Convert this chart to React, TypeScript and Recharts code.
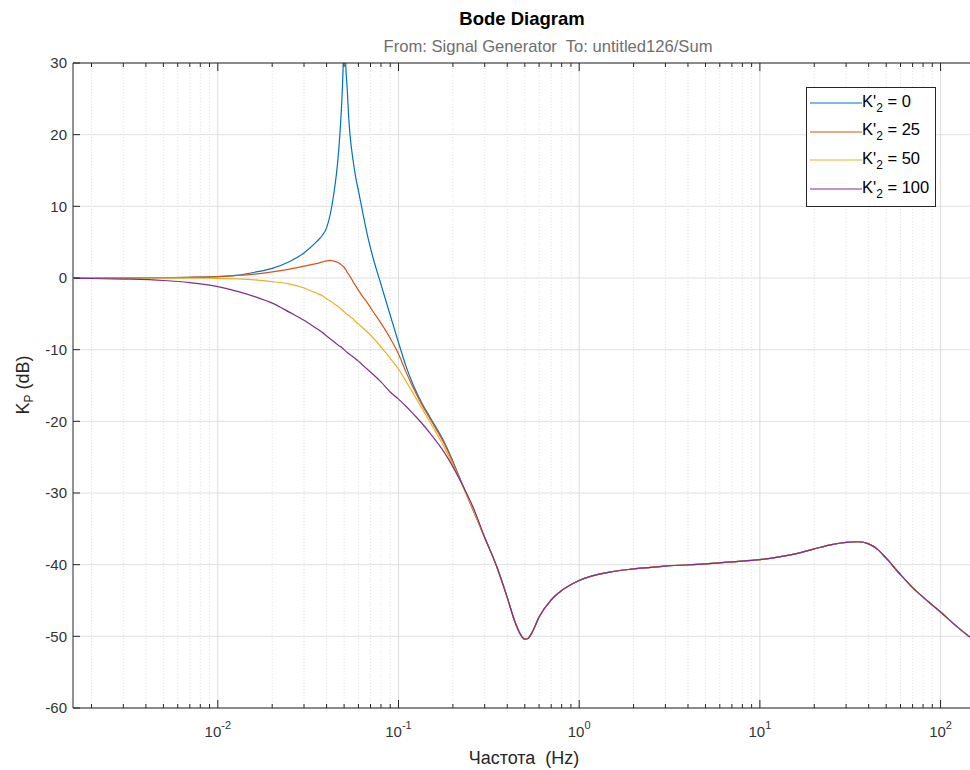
import React from 'react';
import { LineChart, Line, XAxis, YAxis, CartesianGrid, ReferenceLine, Legend } from 'recharts';

const FONT = '"Liberation Sans", Arial, Helvetica, sans-serif';
const AXIS = '#262626';

// frequencies (Hz) where the four responses still differ
const freqLow = [0.0016, 0.002, 0.003, 0.005, 0.007, 0.01, 0.013, 0.016, 0.02, 0.025, 0.03, 0.035, 0.038, 0.04, 0.042, 0.044, 0.046, 0.047, 0.048, 0.049, 0.0495, 0.05, 0.0505, 0.051, 0.052, 0.053, 0.054, 0.056, 0.058, 0.06, 0.063, 0.067, 0.072, 0.08, 0.09, 0.1, 0.11, 0.12, 0.135, 0.15, 0.18, 0.22, 0.26];
const k0Low = [0, 0, 0.01, 0.05, 0.1, 0.2, 0.4, 0.8, 1.35, 2.3, 3.5, 5.0, 6.0, 7.0, 9.0, 12.0, 16.0, 18.8, 22.3, 27, 31, 42, 34, 30, 26.5, 22.5, 19.8, 16.5, 14, 12.2, 9.5, 6.2, 3.0, -0.9, -5.2, -9.0, -12.3, -14.8, -17.5, -19.5, -23.0, -28.1, -32.5];
const k25Low = [0, 0, 0.01, 0.05, 0.1, 0.2, 0.35, 0.55, 0.85, 1.25, 1.65, 2.0, 2.25, 2.4, 2.45, 2.35, 2.2, 2.05, 1.9, 1.7, 1.6, 1.5, 1.35, 1.2, 0.8, 0.5, 0.2, -0.5, -1.1, -1.7, -2.5, -3.4, -4.6, -6.3, -8.4, -10.6, -13.1, -15.2, -17.7, -19.7, -23.2, -28.2, -32.5];
const k50Low = [0, 0, 0, 0, -0.02, -0.05, -0.12, -0.25, -0.5, -0.85, -1.4, -2.1, -2.5, -2.9, -3.2, -3.6, -3.9, -4.1, -4.3, -4.5, -4.6, -4.7, -4.8, -4.9, -5.1, -5.2, -5.4, -5.7, -6.1, -6.4, -6.9, -7.5, -8.3, -9.6, -11.2, -12.7, -14.4, -16.0, -18.2, -20.2, -23.7, -28.3, -32.4];
const k100Low = [-0.05, -0.07, -0.15, -0.35, -0.65, -1.2, -1.9, -2.6, -3.5, -4.8, -5.9, -7.0, -7.6, -8.1, -8.5, -8.9, -9.3, -9.5, -9.6, -9.8, -9.9, -10.0, -10.1, -10.2, -10.4, -10.55, -10.7, -11.0, -11.3, -11.6, -12.1, -12.7, -13.4, -14.5, -15.9, -16.9, -17.9, -18.9, -20.3, -21.7, -24.4, -28.3, -32.1];

// above ~0.3 Hz all four curves lie on top of each other
const freqTail = [0.3, 0.35, 0.4, 0.44, 0.47, 0.5, 0.52, 0.55, 0.6, 0.7, 0.8, 1, 1.5, 2, 3, 5, 7, 10, 15, 20, 25, 30, 35, 40, 45, 50, 60, 70, 85, 100, 120, 145];
const dbTail = [-36.2, -40.3, -44.6, -47.9, -49.6, -50.4, -50.3, -49.4, -47.3, -44.9, -43.6, -42.2, -41.0, -40.6, -40.2, -39.9, -39.6, -39.3, -38.6, -37.8, -37.2, -36.9, -36.8, -37.1, -37.9, -39.1, -41.4, -43.2, -45.1, -46.6, -48.4, -50.1];

const kValues = [0, 25, 50, 100];
const seriesKeys = ['k0', 'k25', 'k50', 'k100'];
const colors = ['#0072BD', '#D95319', '#EDB120', '#7E2F8E'];

const yTicks = [-60, -50, -40, -30, -20, -10, 0, 10, 20, 30];
const decades = [0.001, 0.01, 0.1, 1, 10, 100];
const xDomain = [0.00158, 145.5];

const lowCols = [k0Low, k25Low, k50Low, k100Low];
const data = [
  ...freqLow.map((f, i) => {
    const row: Record<string, number> = { f };
    seriesKeys.forEach((k, s) => (row[k] = lowCols[s][i]));
    return row;
  }),
  ...freqTail.map((f, i) => {
    const row: Record<string, number> = { f };
    seriesKeys.forEach((k) => (row[k] = dbTail[i]));
    return row;
  }),
];

const inDomain = (v: number) => v >= xDomain[0] && v <= xDomain[1];
const majorTicks = decades.filter(inDomain);
const minorTicks = decades
  .flatMap((d) => [2, 3, 4, 5, 6, 7, 8, 9].map((m) => +(d * m).toPrecision(3)))
  .filter(inDomain);
const xTicks = [...majorTicks, ...minorTicks].sort((a, b) => a - b);
const isMajor = (v: number) => majorTicks.some((m) => Math.abs(m - v) / m < 1e-6);

function BottomTick(props: any) {
  const { x, y, payload } = props;
  const major = isMajor(payload.value);
  const exp = Math.round(Math.log10(payload.value));
  return (
    <g>
      <line x1={x} x2={x} y1={y} y2={y - (major ? 8 : 4)} stroke={AXIS} />
      {major && (
        <text x={x} y={y + 29} textAnchor="middle" fontFamily={FONT} fontSize={15} fill="#333">
          <tspan>10</tspan>
          <tspan dy={-8} fontSize={11}>{exp}</tspan>
        </text>
      )}
    </g>
  );
}

function TopTick(props: any) {
  const { x, y, payload } = props;
  const major = isMajor(payload.value);
  return <line x1={x} x2={x} y1={y} y2={y + (major ? 8 : 4)} stroke={AXIS} />;
}

function LeftTick(props: any) {
  const { x, y, payload } = props;
  return (
    <g>
      <line x1={x} x2={x + 7} y1={y} y2={y} stroke={AXIS} />
      <text x={x - 6} y={y} dy="0.35em" textAnchor="end" fontFamily={FONT} fontSize={15} fill="#333">
        {payload.value}
      </text>
    </g>
  );
}

function LegendBox() {
  return (
    <div
      style={{
        boxSizing: 'border-box',
        width: 130,
        height: 120,
        border: `1px solid ${AXIS}`,
        background: '#fff',
        paddingTop: 1,
        fontFamily: FONT,
        fontSize: 16.5,
        color: '#000',
      }}
    >
      {kValues.map((k, i) => (
        <div key={k} style={{ display: 'flex', alignItems: 'center', height: 28.6 }}>
          <svg width={55} height={10} style={{ flex: 'none' }}>
            <line x1={3} x2={55} y1={5} y2={5} stroke={colors[i]} strokeWidth={1.2} />
          </svg>
          <span style={{ whiteSpace: 'pre' }}>
            K'<sub style={{ fontSize: 12, verticalAlign: -5 }}>2</sub> = {k}
          </span>
        </div>
      ))}
    </div>
  );
}

export default function App() {
  return (
    <div style={{ position: 'fixed', left: 0, top: 0, width: 970, height: 770, background: '#fff', overflow: 'hidden' }}>
      <LineChart width={970} height={770} data={data} margin={{ top: 62, right: 0, bottom: 22, left: 33 }}>
        <CartesianGrid vertical={false} stroke="#e0e0e0" />
        {minorTicks.map((v) => (
          <ReferenceLine key={'m' + v} x={v} stroke="#e2e2e2" strokeDasharray="1 2" />
        ))}
        {majorTicks.map((v) => (
          <ReferenceLine key={'M' + v} x={v} stroke="#dcdcdc" />
        ))}
        <XAxis
          dataKey="f"
          type="number"
          scale="log"
          domain={xDomain}
          allowDataOverflow
          ticks={xTicks}
          interval={0}
          tick={<BottomTick />}
          tickLine={false}
          tickSize={0}
          tickMargin={0}
          height={40}
          axisLine={{ stroke: AXIS }}
        />
        <XAxis
          xAxisId="top"
          orientation="top"
          dataKey="f"
          type="number"
          scale="log"
          domain={xDomain}
          allowDataOverflow
          ticks={xTicks}
          interval={0}
          tick={<TopTick />}
          tickLine={false}
          tickSize={0}
          tickMargin={0}
          height={1}
          axisLine={{ stroke: AXIS }}
        />
        <YAxis
          type="number"
          domain={[-60, 30]}
          allowDataOverflow
          ticks={yTicks}
          interval={0}
          tick={<LeftTick />}
          tickLine={false}
          tickSize={0}
          tickMargin={0}
          width={40}
          axisLine={{ stroke: AXIS }}
        />
        {seriesKeys.map((k, i) => (
          <Line
            key={k}
            dataKey={k}
            name={String(kValues[i])}
            type="monotone"
            stroke={colors[i]}
            strokeWidth={1.2}
            dot={false}
            isAnimationActive={false}
          />
        ))}
        <Legend
          layout="vertical"
          align="center"
          verticalAlign="middle"
          content={<LegendBox />}
          wrapperStyle={{ left: 806, top: 87, width: 'auto', height: 'auto' }}
        />
      </LineChart>
      <svg width={970} height={770} style={{ position: 'absolute', left: 0, top: 0, pointerEvents: 'none' }}>
        <text x={522} y={25} textAnchor="middle" fontFamily={FONT} fontWeight="bold" fontSize={18.5} fill="#000">
          Bode Diagram
        </text>
        <text x={548} y={52} textAnchor="middle" fontFamily={FONT} fontSize={16.6} fill="#6e6e6e" style={{ whiteSpace: 'pre' }}>
          From: Signal Generator  To: untitled126/Sum
        </text>
        <text x={524} y={764} textAnchor="middle" fontFamily={FONT} fontSize={18} fill="#262626" style={{ whiteSpace: 'pre' }}>
          Частота  (Hz)
        </text>
        <text transform="translate(29,385) rotate(-90)" textAnchor="middle" fontFamily={FONT} fontSize={18} fill="#262626">
          K<tspan dy={4} fontSize={12}>P</tspan>
          <tspan dy={-4}> (dB)</tspan>
        </text>
      </svg>
    </div>
  );
}
